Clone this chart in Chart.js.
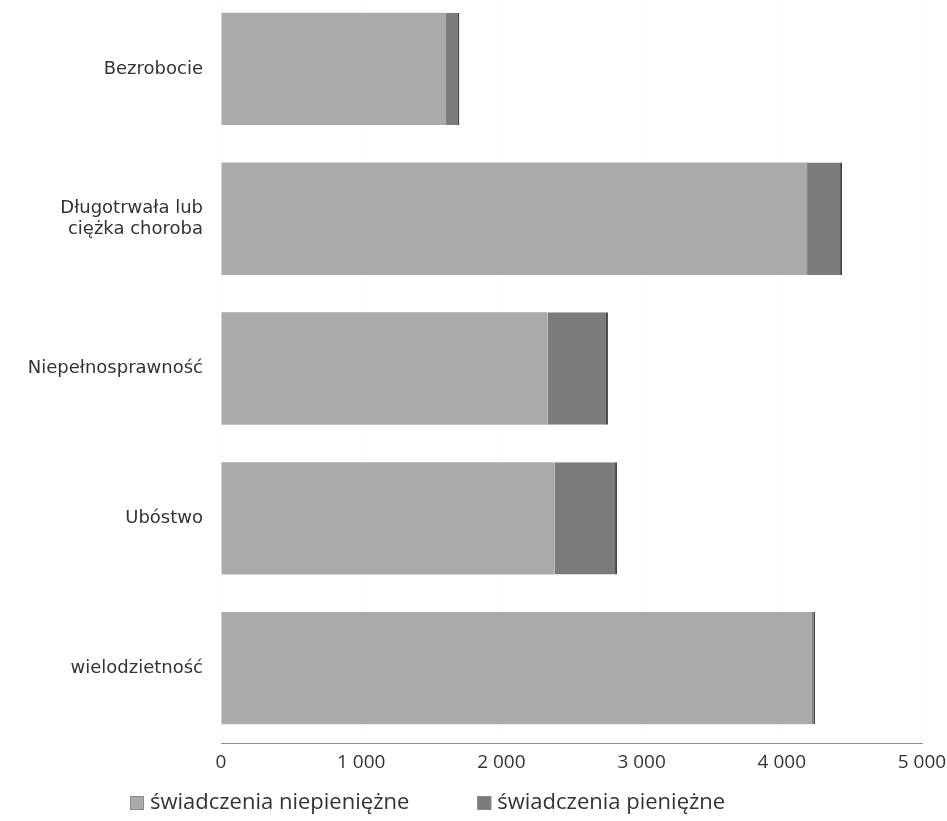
<!DOCTYPE html>
<html>
<head>
<meta charset="utf-8">
<script src="https://cdn.jsdelivr.net/npm/chart.js@4/dist/chart.umd.min.js"></script>
<style>
  html, body { margin: 0; padding: 0; background: #ffffff; }
  #wrap { width: 947px; height: 821px; }
</style>
</head>
<body>
<div id="wrap"><canvas id="c" width="947" height="821"></canvas></div>
<script>
const categories = ['Bezrobocie', ['Długotrwała lub', 'ciężka choroba'], 'Niepełnosprawność', 'Ubóstwo', 'wielodzietność'];
const seriesNames = ['świadczenia niepieniężne', 'świadczenia pieniężne'];
const niepieniezne = [1605, 4180, 2330, 2380, 4215];
const pieniezne = [95, 250, 430, 445, 22];
const xTickLabels = ['0', '1 000', '2 000', '3 000', '4 000', '5 000'];

const customLegend = {
  id: 'customLegend',
  afterDraw(chart) {
    const ctx = chart.ctx;
    ctx.save();
    ctx.font = '22px "Open Sans"';
    ctx.textBaseline = 'middle';
    let x = 130;
    const y = 803;
    chart.data.datasets.forEach((ds) => {
      ctx.fillStyle = ds.backgroundColor;
      ctx.fillRect(x, y - 7, 14, 14);
      ctx.strokeStyle = '#8a8a8a';
      ctx.lineWidth = 1;
      ctx.strokeRect(x + 0.5, y - 6.5, 13, 13);
      ctx.fillStyle = '#333333';
      ctx.textAlign = 'left';
      ctx.fillText(ds.label, x + 20, y);
      x += 20 + ctx.measureText(ds.label).width + 68;
    });
    ctx.restore();
  }
};

// let the plot area start slightly above the canvas top, as in the scanned original
const raiseTop = {
  id: 'raiseTop',
  afterLayout(chart) {
    const top = -6;
    const ys = chart.scales.y;
    ys.top = top;
    ys.height = ys.bottom - top;
    ys.configure();
    chart.chartArea.top = top;
    chart.chartArea.height = chart.chartArea.bottom - top;
  }
};

new Chart(document.getElementById('c'), {
  type: 'bar',
  data: {
    labels: categories,
    datasets: [
      {
        label: seriesNames[0],
        data: niepieniezne,
        backgroundColor: '#aaaaaa',
        borderWidth: 0
      },
      {
        label: seriesNames[1],
        data: pieniezne,
        backgroundColor: '#7b7b7b',
        borderColor: '#454545',
        borderWidth: { top: 0, bottom: 0, left: 0, right: 2 },
        borderSkipped: false
      }
    ]
  },
  options: {
    indexAxis: 'y',
    responsive: false,
    animation: false,
    devicePixelRatio: 1,
    layout: { padding: { top: 0, bottom: 48, left: 0, right: 0 } },
    datasets: { bar: { barPercentage: 0.75, categoryPercentage: 1.0 } },
    plugins: {
      legend: { display: false },
      tooltip: { enabled: false }
    },
    scales: {
      x: {
        stacked: true,
        min: 0,
        max: 5000,
        ticks: {
          stepSize: 1000,
          padding: 8,
          color: '#333333',
          font: { family: '"Open Sans"', size: 19 },
          maxRotation: 0,
          callback: (v) => xTickLabels[Math.round(v / 1000)]
        },
        grid: { color: '#ececec', lineWidth: 1, drawTicks: false },
        border: { display: true, color: '#8f8f8f', dash: [1, 2], width: 1 },
        afterFit: (s) => { s.height = 30; s.paddingLeft = 0; s.paddingRight = 25; }
      },
      y: {
        stacked: true,
        ticks: {
          padding: 18,
          color: '#333333',
          font: { family: '"DejaVu Sans"', size: 18 }
        },
        grid: { display: false, drawTicks: false },
        border: { display: false },
        afterFit: (s) => { s.width = 221; s.paddingTop = 0; s.paddingBottom = 0; }
      }
    }
  },
  plugins: [customLegend, raiseTop]
});
</script>
</body>
</html>
